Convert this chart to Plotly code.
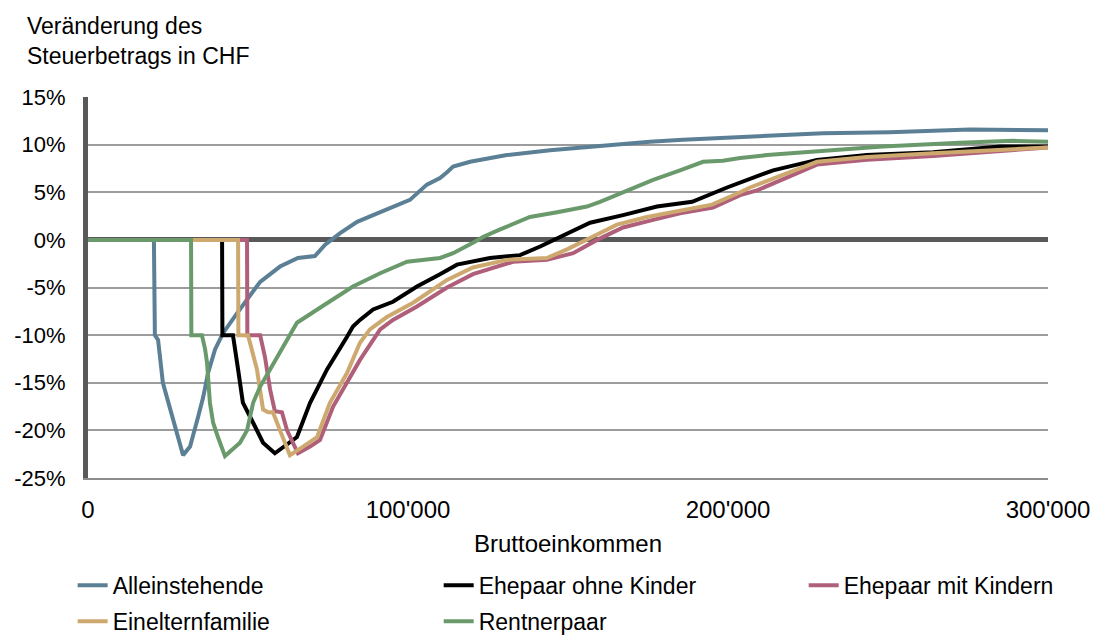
import plotly.graph_objects as go

# Income (CHF) and change of tax amount (%) per household type
x_allein = [0, 20600, 20900, 21900, 23400, 26300, 27300, 28100, 29700, 31900,
            32800, 34400, 36000, 37500, 39700, 42200, 46600, 53800, 60000, 65600,
            70900, 74100, 78800, 84100, 89100, 97500, 100600, 105900, 110000, 112200,
            114100, 119400, 130900, 144400, 156900, 167200, 175600, 185900, 197500, 212200,
            229700, 250600, 275600, 300000]
y_allein = [0, 0, -10, -10.5, -15, -18.5, -19.6, -20.7, -22.6, -21.7,
            -20.7, -18.6, -16.5, -14, -11.5, -9.8, -7.7, -4.4, -2.8, -1.9,
            -1.7, -0.5, 0.7, 1.9, 2.6, 3.7, 4.2, 5.8, 6.5, 7.1,
            7.7, 8.2, 8.9, 9.4, 9.8, 10.1, 10.3, 10.5, 10.7, 10.9,
            11.2, 11.3, 11.6, 11.5]

x_ohne = [0, 41900, 42000, 45300, 46900, 48400, 51600, 54700, 58400, 63100,
          65300, 69400, 74700, 80900, 82800, 85000, 89100, 95300, 102800, 110000,
          115300, 125600, 135000, 141300, 149700, 156900, 167200, 177800, 188800, 195300,
          199700, 214100, 227800, 243400, 264100, 285000, 300000]
y_ohne = [0, 0, -10, -10, -13.6, -17.1, -19.2, -21.3, -22.4, -21.3,
          -20.7, -17.1, -13.6, -10.2, -9.1, -8.4, -7.3, -6.5, -4.9, -3.6,
          -2.6, -1.9, -1.6, -0.7, 0.7, 1.8, 2.6, 3.5, 4.0, 4.9,
          5.5, 7.3, 8.4, 8.9, 9.2, 9.8, 9.8]

x_mit = [0, 49700, 49800, 53800, 55300, 56900, 58400, 60600, 62200, 65600,
         69400, 72500, 76600, 80900, 85000, 91300, 95300, 102800, 112200, 120300,
         128100, 132800, 143400, 151600, 159100, 167200, 176600, 185000, 195300, 203800,
         209100, 227800, 243400, 264100, 300000]
y_mit = [0, 0, -10, -10, -12.3, -15.7, -18, -18.1, -20, -22.4,
         -21.7, -21, -17.5, -15, -12.6, -9.4, -8.4, -7, -5, -3.6,
         -2.8, -2.3, -2.1, -1.4, 0, 1.3, 2.1, 2.8, 3.4, 4.7,
         5.2, 7.9, 8.4, 8.8, 9.7]

x_einel = [0, 46900, 47000, 50000, 52800, 54700, 56300, 57800, 60000, 63100,
           67200, 71600, 75600, 80900, 85000, 88100, 93400, 101600, 110000, 112200,
           120300, 127800, 130900, 143400, 149700, 156900, 160000, 165300, 174700, 185000,
           195000, 203800, 206900, 227800, 243400, 264100, 300000]
y_einel = [0, 0, -10, -10, -13.6, -17.8, -18.1, -18.1, -20, -22.6,
           -21.7, -20.7, -17.1, -14, -10.8, -9.4, -8.1, -6.6, -4.7, -4.2,
           -2.9, -2.3, -2.1, -1.9, -1.0, 0.2, 0.7, 1.6, 2.4, 3.1,
           3.7, 5.0, 5.5, 8.2, 8.7, 9.1, 9.7]

x_rentner = [0, 32200, 32300, 35600, 36600, 37200, 38100, 39100, 40600, 42800,
             47500, 49700, 51600, 53800, 56900, 62200, 65300, 73100, 82800, 91300,
             99700, 110000, 114100, 120300, 123400, 128800, 130900, 138100, 146600, 155900,
             160000, 167200, 176600, 185000, 192200, 198400, 203800, 212200, 227800, 248400,
             272500, 289100, 300000]
y_rentner = [0, 0, -10, -10, -11.5, -12.9, -17.1, -19.2, -20.7, -22.7,
             -21.3, -20, -17.1, -15.4, -13.6, -10.5, -8.7, -7, -4.9, -3.5,
             -2.3, -1.9, -1.4, -0.3, 0.3, 1.1, 1.4, 2.4, 2.9, 3.5,
             4, 5, 6.3, 7.3, 8.2, 8.3, 8.6, 8.9, 9.3, 9.8,
             10.2, 10.4, 10.3]

series_names = ["Alleinstehende", "Ehepaar ohne Kinder", "Ehepaar mit Kindern",
                "Einelternfamilie", "Rentnerpaar"]
series_colors = ["#5B7F95", "#000000", "#AF5F7A", "#CDA96F", "#6A9A6C"]
series_x = [x_allein, x_ohne, x_mit, x_einel, x_rentner]
series_y = [y_allein, y_ohne, y_mit, y_einel, y_rentner]
# legend column of each series (reference legend: 3 columns, 2 rows)
series_legend = ["legend", "legend2", "legend3", "legend", "legend2"]

x_tickvals = [0, 100000, 200000, 300000]
x_ticktext = ["0", "100'000", "200'000", "300'000"]
y_tickvals = [-25, -20, -15, -10, -5, 0, 5, 10, 15]
y_ticktext = ["-25%", "-20%", "-15%", "-10%", "-5%", "0%", "5%", "10%", "15%"]

FONT = "Liberation Sans, Arial, sans-serif"

fig = go.Figure()
for name, col, xs, ys, lg in zip(series_names, series_colors, series_x, series_y, series_legend):
    fig.add_trace(go.Scatter(x=xs, y=ys, mode="lines", name=name,
                             legend=lg, legendgroup=name,
                             line=dict(color=col, width=4)))

leg_common = dict(orientation="v", y=-0.2255, yanchor="top", xanchor="left",
                  font=dict(size=23), itemwidth=30, tracegroupgap=3,
                  bgcolor="rgba(0,0,0,0)")

fig.update_layout(
    width=1094, height=639,
    margin=dict(l=88, r=46, t=97, b=161, autoexpand=False),
    paper_bgcolor="white", plot_bgcolor="white",
    font=dict(family=FONT, size=22, color="#000000"),
    showlegend=True,
    legend=dict(x=-0.016, **leg_common),
    legend2=dict(x=0.3653, **leg_common),
    legend3=dict(x=0.7455, **leg_common),
    xaxis=dict(range=[0, 300000], tickvals=x_tickvals, ticktext=x_ticktext,
               showgrid=False, zeroline=False, showline=True, linecolor="#8c8c8c",
               linewidth=2, ticks="", ticklabelstandoff=9,
               tickfont=dict(size=24),
               title=dict(text="Bruttoeinkommen", font=dict(size=24), standoff=13)),
    yaxis=dict(range=[-25, 15], tickvals=y_tickvals, ticktext=y_ticktext,
               showgrid=True, gridcolor="#9c9c9c", gridwidth=2,
               zeroline=True, zerolinecolor="#595959", zerolinewidth=5,
               showline=True, linecolor="#595959", linewidth=5,
               ticks="", ticklabelstandoff=13, tickfont=dict(size=22)),
    annotations=[dict(text="Veränderung des<br>Steuerbetrags in CHF",
                      xref="paper", yref="paper", x=-0.066, y=1.147,
                      xanchor="left", yanchor="middle", align="left",
                      showarrow=False, font=dict(size=23))],
)

fig.write_html("out.html")
